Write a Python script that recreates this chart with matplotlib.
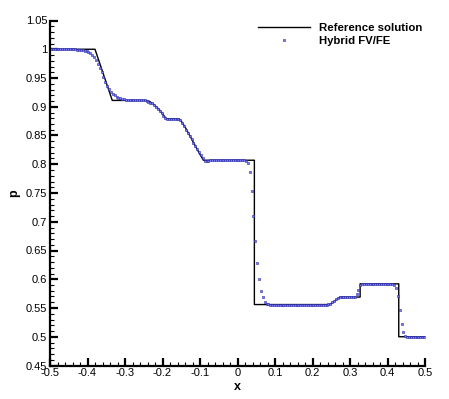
import matplotlib
matplotlib.use("Agg")
import matplotlib.pyplot as plt
from matplotlib.ticker import MultipleLocator, FuncFormatter

plt.rcParams["font.family"] = ["Liberation Sans", "DejaVu Sans"]
plt.rcParams["axes.unicode_minus"] = False

# reference (exact) solution, piecewise
x_ref = [-0.5, -0.38, -0.334, -0.245, -0.235, -0.225, -0.21, -0.2, -0.19,
         -0.156, -0.15, -0.14, -0.10, -0.091, 0.045, 0.045, 0.245, 0.252,
         0.26, 0.267, 0.273, 0.327, 0.327, 0.430, 0.430, 0.5]
p_ref = [1.0, 1.0, 0.911, 0.911, 0.9095, 0.905, 0.896, 0.888, 0.879,
         0.879, 0.875, 0.865, 0.817, 0.807, 0.807, 0.556, 0.556, 0.5585,
         0.5625, 0.566, 0.569, 0.569, 0.592, 0.592, 0.5, 0.5]

# hybrid FV/FE cell values (200 cells)
x_num = [
    -0.4975, -0.4925, -0.4875, -0.4825, -0.4775, -0.4725, -0.4675, -0.4625, -0.4575, -0.4525,
    -0.4475, -0.4425, -0.4375, -0.4325, -0.4275, -0.4225, -0.4175, -0.4125, -0.4075, -0.4025,
    -0.3975, -0.3925, -0.3875, -0.3825, -0.3775, -0.3725, -0.3675, -0.3625, -0.3575, -0.3525,
    -0.3475, -0.3425, -0.3375, -0.3325, -0.3275, -0.3225, -0.3175, -0.3125, -0.3075, -0.3025,
    -0.2975, -0.2925, -0.2875, -0.2825, -0.2775, -0.2725, -0.2675, -0.2625, -0.2575, -0.2525,
    -0.2475, -0.2425, -0.2375, -0.2325, -0.2275, -0.2225, -0.2175, -0.2125, -0.2075, -0.2025,
    -0.1975, -0.1925, -0.1875, -0.1825, -0.1775, -0.1725, -0.1675, -0.1625, -0.1575, -0.1525,
    -0.1475, -0.1425, -0.1375, -0.1325, -0.1275, -0.1225, -0.1175, -0.1125, -0.1075, -0.1025,
    -0.0975, -0.0925, -0.0875, -0.0825, -0.0775, -0.0725, -0.0675, -0.0625, -0.0575, -0.0525,
    -0.0475, -0.0425, -0.0375, -0.0325, -0.0275, -0.0225, -0.0175, -0.0125, -0.0075, -0.0025,
    0.0025, 0.0075, 0.0125, 0.0175, 0.0225, 0.0275, 0.0325, 0.0375, 0.0425, 0.0475,
    0.0525, 0.0575, 0.0625, 0.0675, 0.0725, 0.0775, 0.0825, 0.0875, 0.0925, 0.0975,
    0.1025, 0.1075, 0.1125, 0.1175, 0.1225, 0.1275, 0.1325, 0.1375, 0.1425, 0.1475,
    0.1525, 0.1575, 0.1625, 0.1675, 0.1725, 0.1775, 0.1825, 0.1875, 0.1925, 0.1975,
    0.2025, 0.2075, 0.2125, 0.2175, 0.2225, 0.2275, 0.2325, 0.2375, 0.2425, 0.2475,
    0.2525, 0.2575, 0.2625, 0.2675, 0.2725, 0.2775, 0.2825, 0.2875, 0.2925, 0.2975,
    0.3025, 0.3075, 0.3125, 0.3175, 0.3225, 0.3275, 0.3325, 0.3375, 0.3425, 0.3475,
    0.3525, 0.3575, 0.3625, 0.3675, 0.3725, 0.3775, 0.3825, 0.3875, 0.3925, 0.3975,
    0.4025, 0.4075, 0.4125, 0.4175, 0.4225, 0.4275, 0.4325, 0.4375, 0.4425, 0.4475,
    0.4525, 0.4575, 0.4625, 0.4675, 0.4725, 0.4775, 0.4825, 0.4875, 0.4925, 0.4975,
]
p_num = [
    1.0, 1.0, 1.0, 1.0, 1.0, 1.0, 1.0, 1.0, 1.0, 1.0,
    1.0, 0.9998, 0.9997, 0.9996, 0.9994, 0.9991, 0.9988, 0.9982, 0.9974, 0.9963,
    0.9948, 0.9927, 0.9897, 0.9858, 0.9809, 0.9747, 0.9676, 0.9596, 0.9514, 0.9436,
    0.9367, 0.9308, 0.9262, 0.9226, 0.9199, 0.9177, 0.9160, 0.9146, 0.9135, 0.9127,
    0.9121, 0.9117, 0.9114, 0.9112, 0.9111, 0.911, 0.911, 0.911, 0.911, 0.911,
    0.9109, 0.9102, 0.9088, 0.9071, 0.9058, 0.9036, 0.8998, 0.8961, 0.8924, 0.8887,
    0.8846, 0.8808, 0.8792, 0.8789, 0.8789, 0.8789, 0.8789, 0.8789, 0.8785, 0.8765,
    0.8714, 0.8657, 0.8600, 0.8544, 0.8488, 0.8432, 0.8377, 0.8321, 0.8265, 0.8210,
    0.8154, 0.8100, 0.8062, 0.8058, 0.8062, 0.8066, 0.807, 0.807, 0.807, 0.807,
    0.807, 0.807, 0.807, 0.807, 0.807, 0.807, 0.807, 0.807, 0.807, 0.807,
    0.807, 0.807, 0.807, 0.8068, 0.8058, 0.8022, 0.7860, 0.7535, 0.7106, 0.6665,
    0.6286, 0.6005, 0.5798, 0.5686, 0.5612, 0.5575, 0.5562, 0.556, 0.556, 0.556,
    0.556, 0.556, 0.556, 0.556, 0.556, 0.556, 0.556, 0.556, 0.556, 0.556,
    0.556, 0.556, 0.556, 0.556, 0.556, 0.556, 0.556, 0.556, 0.556, 0.556,
    0.556, 0.556, 0.556, 0.556, 0.556, 0.556, 0.556, 0.556, 0.5562, 0.5575,
    0.5600, 0.5628, 0.5656, 0.5677, 0.5687, 0.5690, 0.569, 0.569, 0.569, 0.569,
    0.569, 0.569, 0.5697, 0.5735, 0.5810, 0.5905, 0.5925, 0.5922, 0.592, 0.592,
    0.592, 0.592, 0.592, 0.592, 0.592, 0.592, 0.592, 0.592, 0.592, 0.592,
    0.592, 0.592, 0.5915, 0.5900, 0.5840, 0.5715, 0.5470, 0.5220, 0.5076, 0.5015,
    0.4998, 0.5, 0.5, 0.5, 0.5, 0.5, 0.5, 0.5, 0.5, 0.5,
]

fig = plt.figure(figsize=(4.49, 3.99), dpi=100)
ax = fig.add_axes([50 / 449, 1 - 365.5 / 399, 375 / 449, 345 / 399])

ax.plot(x_ref, p_ref, color="black", lw=1.0, label="Reference solution")
ax.plot(x_num, p_num, ls="none", marker="s", ms=1.8, mfc="#7c7cff",
        mec="#2a2aa8", mew=0.4, label="Hybrid FV/FE")

ax.set_xlim(-0.5, 0.5)
ax.set_ylim(0.45, 1.05)

for side in ["top", "right"]:
    ax.spines[side].set_visible(False)
for side in ["left", "bottom"]:
    ax.spines[side].set_linewidth(1.6)

ax.xaxis.set_major_locator(MultipleLocator(0.1))
ax.xaxis.set_minor_locator(MultipleLocator(0.02))
ax.yaxis.set_major_locator(MultipleLocator(0.05))
ax.yaxis.set_minor_locator(MultipleLocator(0.01))
fmt = FuncFormatter(lambda v, _: f"{round(v, 2) + 0.0:g}")
ax.xaxis.set_major_formatter(fmt)
ax.yaxis.set_major_formatter(fmt)

ax.tick_params(which="major", direction="in", length=6, width=1.6,
               labelsize=8, pad=2)
ax.tick_params(which="minor", direction="in", length=3, width=0.8)

ax.set_xlabel("x", fontsize=9, fontweight="bold", labelpad=2)
ax.set_ylabel("p", fontsize=9, fontweight="bold", labelpad=4)

leg = ax.legend(loc="upper right", frameon=False,
                prop={"weight": "bold", "size": 8.2}, handlelength=4.6,
                handletextpad=0.8, numpoints=1, borderaxespad=0.0,
                borderpad=0.2, labelspacing=0.25, markerscale=0.9)

fig.savefig("out.png", dpi=100)
